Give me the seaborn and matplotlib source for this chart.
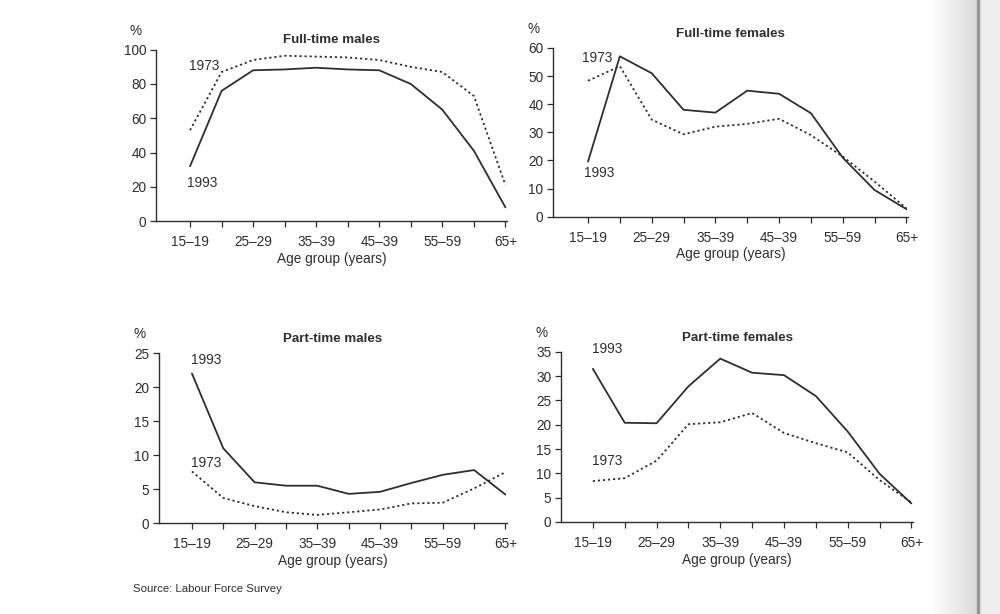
import matplotlib
matplotlib.use("Agg")
import matplotlib.pyplot as plt
import numpy as np
import pandas as pd
import seaborn as sns

# age groups on the x axis (only every other one is labelled in the source)
age_groups = ["15–19", "20–24", "25–29", "30–34", "35–39", "40–44",
              "45–49", "50–54", "55–59", "60–64", "65+"]
tick_labels = ["15–19", "", "25–29", "", "35–39", "", "45–39", "", "55–59", "", "65+"]

ft_males_1993 = [32, 76, 88, 88.5, 89.5, 88.5, 88, 80, 65, 41, 8]
ft_males_1973 = [53, 87, 94, 96.5, 96, 95.5, 94, 90, 87, 73, 21]

ft_females_1993 = [19.6, 57, 51, 38, 37, 44.8, 43.7, 36.8, 21, 9.5, 2.7]
ft_females_1973 = [48.3, 53.5, 34.5, 29.3, 32, 33, 34.8, 29, 21.4, 12.5, 3]

pt_males_1993 = [22, 11, 6, 5.5, 5.5, 4.3, 4.6, 5.9, 7.1, 7.8, 4.2]
pt_males_1973 = [7.6, 3.7, 2.5, 1.6, 1.2, 1.6, 2, 2.9, 3, 5.1, 7.5]

pt_females_1993 = [31.5, 20.4, 20.3, 27.9, 33.6, 30.7, 30.2, 25.9, 18.6, 9.9, 3.8]
pt_females_1973 = [8.4, 9, 12.6, 20.1, 20.5, 22.4, 18.3, 16.2, 14.3, 8.6, 4]

sns.set_theme(style="white")
plt.rcParams["font.family"] = ["Liberation Sans", "DejaVu Sans"]

INK = "#2e2e2e"
FS = 9.8


def make_frame(v1993, v1973):
    idx = list(range(len(age_groups)))
    return pd.DataFrame({
        "pos": idx + idx,
        "value": list(v1993) + list(v1973),
        "year": ["1993"] * len(idx) + ["1973"] * len(idx),
    })


def draw_panel(ax, title, v1993, v1973, ymax, ystep, lab93, lab73, title_pad, xlim_left):
    df = make_frame(v1993, v1973)
    sns.lineplot(data=df, x="pos", y="value", style="year", ax=ax,
                 dashes={"1993": "", "1973": (1.2, 1.6)}, color=INK,
                 linewidth=1.3, legend=False)
    ax.set_xlim(xlim_left, 10.05)
    ax.set_ylim(0, ymax)
    ax.set_yticks(np.arange(0, ymax + 1, ystep))
    ax.set_xticks(range(len(age_groups)))
    ax.set_xticklabels(tick_labels)
    ax.set_xlabel("Age group (years)", fontsize=FS, color=INK, labelpad=2)
    ax.set_ylabel("")
    ax.set_title(title, fontsize=9.6, fontweight="bold", color=INK, pad=title_pad)
    for side in ["top", "right"]:
        ax.spines[side].set_visible(False)
    for side in ["left", "bottom"]:
        ax.spines[side].set_color(INK)
        ax.spines[side].set_linewidth(1.0)
    ax.tick_params(axis="both", direction="out", length=4, width=0.9,
                   colors=INK, labelsize=FS, pad=3, bottom=True, left=True)
    ax.tick_params(axis="x", pad=6)
    ax.annotate("%", xy=(0, 1), xycoords="axes fraction", xytext=(-26, 15),
                textcoords="offset pixels", fontsize=FS, color=INK)
    ax.text(lab93[0], lab93[1], "1993", fontsize=FS, color=INK, ha="center", va="center")
    ax.text(lab73[0], lab73[1], "1973", fontsize=FS, color=INK, ha="center", va="center")


fig = plt.figure(figsize=(10, 6.14), dpi=100)
fig.patch.set_facecolor("white")

# page edge of the scan on the right
bg = fig.add_axes([0.93, 0, 0.07, 1], zorder=-5)
grad = np.ones(70)
grad[:45] = np.linspace(1.0, 0.86, 45)
grad[45:52] = [0.86, 0.8, 0.62, 0.55, 0.62, 0.85, 0.9]
grad[52:] = 0.93
bg.imshow(np.tile(grad, (10, 1)), cmap="gray", vmin=0, vmax=1, aspect="auto")
bg.axis("off")

ax1 = fig.add_axes([0.156, 0.640, 0.351, 0.279])
ax2 = fig.add_axes([0.553, 0.647, 0.355, 0.275])
ax3 = fig.add_axes([0.159, 0.148, 0.348, 0.277])
ax4 = fig.add_axes([0.561, 0.150, 0.352, 0.277])

draw_panel(ax1, "Full-time males", ft_males_1993, ft_males_1973, 100, 20,
           (0.4, 22), (0.45, 90.5), 5, -1.08)
draw_panel(ax2, "Full-time females", ft_females_1993, ft_females_1973, 60, 10,
           (0.35, 15.6), (0.3, 56.4), 8, -1.1)
draw_panel(ax3, "Part-time males", pt_males_1993, pt_males_1973, 25, 5,
           (0.45, 24), (0.45, 8.8), 8, -1.05)
draw_panel(ax4, "Part-time females", pt_females_1993, pt_females_1973, 35, 5,
           (0.45, 35.6), (0.45, 12.5), 8, -1.0)

fig.text(0.133, 0.036, "Source: Labour Force Survey", fontsize=8.2, color=INK)

fig.savefig("out.png", dpi=100)
